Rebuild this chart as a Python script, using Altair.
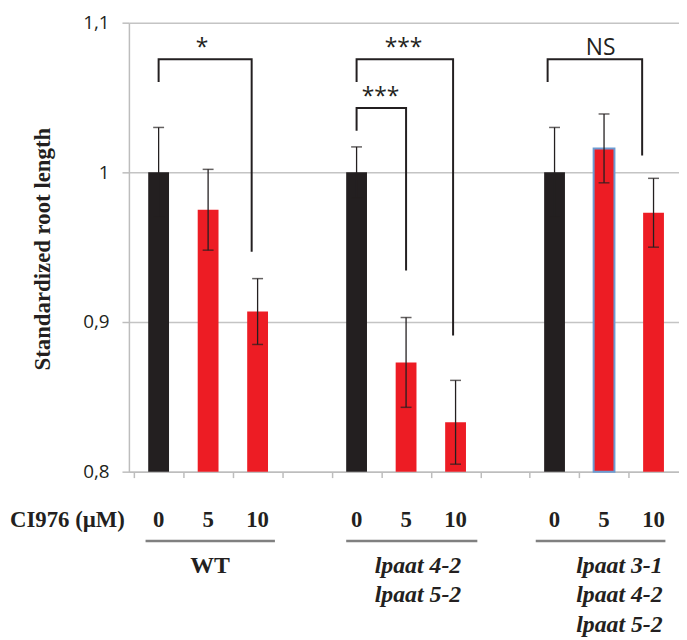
import altair as alt
import pandas as pd

# ---------------- data ----------------
doses = ["0", "5", "10", "0", "5", "10", "0", "5", "10"]
slots = [0, 1, 2, 4, 5, 6, 8, 9, 10]
values = [1.000, 0.975, 0.907, 1.000, 0.873, 0.833, 1.000, 1.016, 0.973]
errors = [0.030, 0.027, 0.022, 0.017, 0.030, 0.028, 0.030, 0.023, 0.023]
colors = ["#231f20", "#ed1c24", "#ed1c24"] * 3
outlines = ["transparent"] * 7 + ["#6c9bd2", "transparent"]

bracket_labels = ["*", "***", "***", "NS"]
bracket_left = [0.5, 4.5, 4.5, 8.36]
bracket_right = [2.38, 6.45, 5.5, 10.27]
bracket_top = [1.0755, 1.0755, 1.043, 1.0755]
bracket_left_end = [1.0603, 1.0603, 1.0278, 1.0603]
bracket_right_end = [0.947, 0.891, 0.9344, 1.0113]
bracket_label_x = [1.377, 5.45, 4.985, 9.43]
bracket_label_y = [1.0781, 1.0781, 1.0457, 1.0781]

group_names = ["WT", "lpaat 4-2\nlpaat 5-2", "lpaat 3-1\nlpaat 4-2\nlpaat 5-2"]
group_italic = [False, True, True]
group_label_x = [1.54, 5.74, 9.81]
group_line_from = [0.236, 4.29, 8.12]
group_line_to = [2.85, 6.94, 10.74]

dose_title = "CI976 (µM)"
y_title = "Standardized root length"
y_ticks = [0.8, 0.9, 1.0, 1.1]

# ---------------- layout ----------------
SLOT_PX = 50.85
WIDTH = 555
HEIGHT = 453
XMAX = WIDTH / SLOT_PX
INK = "#231f20"
AXIS_GREY = "#bdbdbd"
SERIF = "Liberation Serif"
SANS = "Open Sans"

bars = pd.DataFrame({
    "pos": [s + 0.5 for s in slots],
    "value": values,
    "lo": [v - e for v, e in zip(values, errors)],
    "hi": [v + e for v, e in zip(values, errors)],
    "color": colors,
    "outline": outlines,
    "dose": doses,
})

pts = []
for i in range(len(bracket_labels)):
    pts += [
        {"id": i, "k": 0, "x": bracket_left[i], "y": bracket_left_end[i]},
        {"id": i, "k": 1, "x": bracket_left[i], "y": bracket_top[i]},
        {"id": i, "k": 2, "x": bracket_right[i], "y": bracket_top[i]},
        {"id": i, "k": 3, "x": bracket_right[i], "y": bracket_right_end[i]},
    ]
brackets = pd.DataFrame(pts)
blabels = pd.DataFrame({"x": bracket_label_x, "y": bracket_label_y, "t": bracket_labels})

groups = pd.DataFrame({
    "name": group_names, "italic": group_italic, "x": group_label_x,
    "x1": group_line_from, "x2": group_line_to,
})

xscale = alt.Scale(domain=[0, XMAX], nice=False, zero=False)
yscale = alt.Scale(domain=[0.8, 1.1], nice=False, zero=False)

base = alt.Chart(bars)

bar_layer = base.mark_bar(size=21, strokeWidth=2).encode(
    x=alt.X("pos:Q", scale=xscale, axis=alt.Axis(
        values=list(range(11)), labels=False, title=None, grid=False,
        tickSize=6, tickColor=AXIS_GREY, tickWidth=1.5,
        domainColor=AXIS_GREY, domainWidth=1.5)),
    y=alt.Y("value:Q", scale=yscale, axis=alt.Axis(
        values=y_ticks,
        labelExpr="datum.value == 1 ? '1' : replace(format(datum.value, '.1f'), '.', ',')",
        grid=True, gridColor="#c4c4c4", gridWidth=1.5,
        tickSize=7, tickColor=AXIS_GREY, tickWidth=1.5,
        domainColor=AXIS_GREY, domainWidth=1.5,
        labelPadding=13, labelFont=SANS, labelFontSize=19, labelColor=INK,
        title=y_title, titleFont=SERIF, titleFontSize=23, titleFontWeight="bold",
        titleColor=INK, titleAngle=270, titleX=-80, titleY=228,
        titleAlign="center", titleBaseline="alphabetic")),
    y2=alt.datum(0.8),
    color=alt.Color("color:N", scale=None),
    stroke=alt.Stroke("outline:N", scale=None),
)

err_rule = base.mark_rule(color=INK, strokeWidth=1.3).encode(
    x="pos:Q", y="lo:Q", y2="hi:Q")
cap_hi = base.mark_tick(orient="horizontal", size=11, thickness=1.5, color=INK).encode(
    x="pos:Q", y="hi:Q")
cap_lo = base.mark_tick(orient="horizontal", size=11, thickness=1.5, color=INK).encode(
    x="pos:Q", y="lo:Q")

bracket_layer = alt.Chart(brackets).mark_line(color=INK, strokeWidth=2, strokeJoin="miter").encode(
    x="x:Q", y="y:Q", detail="id:N", order="k:Q")
blabel_layer = alt.Chart(blabels).mark_text(
    font=SANS, fontSize=23, color=INK, baseline="alphabetic", align="center").encode(
    x="x:Q", y="y:Q", text="t:N")

dose_title_layer = alt.Chart(pd.DataFrame({"t": [dose_title]})).mark_text(
    font=SERIF, fontSize=23, fontWeight="bold", color=INK, align="right",
    baseline="alphabetic").encode(text="t:N", x=alt.value(-4), y=alt.value(509))
dose_layer = base.mark_text(
    font=SERIF, fontSize=23, fontWeight="bold", color=INK, align="center",
    baseline="alphabetic").encode(x="pos:Q", y=alt.value(509), text="dose:N")

underline_layer = alt.Chart(groups).mark_rule(color="#808080", strokeWidth=2.5).encode(
    x="x1:Q", x2="x2:Q", y=alt.value(523))
wt_label = alt.Chart(groups).transform_filter("!datum.italic").mark_text(
    font=SERIF, fontSize=24, fontWeight="bold", color=INK, align="center",
    baseline="alphabetic", lineBreak="\n", lineHeight=30).encode(
    x="x:Q", y=alt.value(555), text="name:N")
mut_label = alt.Chart(groups).transform_filter("datum.italic").mark_text(
    font=SERIF, fontSize=24, fontWeight="bold", fontStyle="italic", color=INK,
    align="center", baseline="alphabetic", lineBreak="\n", lineHeight=30).encode(
    x="x:Q", y=alt.value(555), text="name:N")

chart = alt.layer(
    bar_layer, err_rule, cap_hi, cap_lo, bracket_layer, blabel_layer,
    dose_title_layer, dose_layer, underline_layer, wt_label, mut_label,
).properties(
    width=WIDTH, height=HEIGHT,
    autosize=alt.AutoSizeParams(type="none"),
    padding={"left": 122, "top": 12, "right": 0, "bottom": 165},
    background="white",
).configure_view(strokeWidth=0)

chart.save("out.html", embed_options={"renderer": "svg", "actions": False})
